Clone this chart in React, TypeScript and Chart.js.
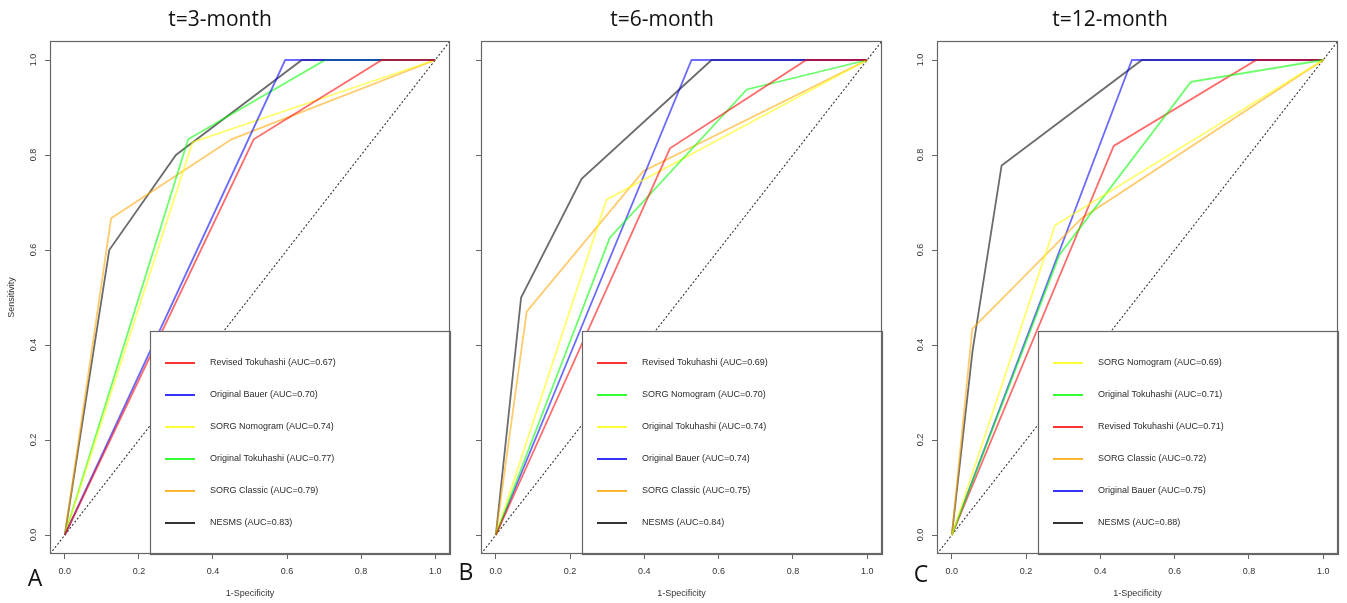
import React, { useEffect, useRef } from "react";
import { Chart, registerables } from "chart.js";

Chart.register(...registerables);

// Shared axis range (R-style 4% extension around [0, 1]) and tick positions
const AXIS_MIN = -0.04;
const AXIS_MAX = 1.04;
const tickValues = [0, 0.2, 0.4, 0.6, 0.8, 1.0];

// RGB triplets for the curve colours
const RED = "255,0,0";
const BLUE = "0,0,255";
const YELLOW = "255,255,0";
const GREEN = "0,255,0";
const ORANGE = "255,165,0";
const BLACK = "0,0,0";

// t = 3 months
const labels3 = [
  "Revised Tokuhashi (AUC=0.67)",
  "Original Bauer (AUC=0.70)",
  "SORG Nomogram (AUC=0.74)",
  "Original Tokuhashi (AUC=0.77)",
  "SORG Classic (AUC=0.79)",
  "NESMS (AUC=0.83)",
];
const colors3 = [RED, BLUE, YELLOW, GREEN, ORANGE, BLACK];
const fpr3 = [
  [0, 0.51, 0.856, 1],
  [0, 0.595, 1],
  [0, 0.345, 1],
  [0, 0.333, 0.703, 1],
  [0, 0.125, 0.45, 1],
  [0, 0.12, 0.3, 0.64, 1],
];
const tpr3 = [
  [0, 0.833, 1, 1],
  [0, 1, 1],
  [0, 0.827, 1],
  [0, 0.833, 1, 1],
  [0, 0.667, 0.833, 1],
  [0, 0.6, 0.8, 1, 1],
];

// t = 6 months
const labels6 = [
  "Revised Tokuhashi (AUC=0.69)",
  "SORG Nomogram (AUC=0.70)",
  "Original Tokuhashi (AUC=0.74)",
  "Original Bauer (AUC=0.74)",
  "SORG Classic (AUC=0.75)",
  "NESMS (AUC=0.84)",
];
const colors6 = [RED, GREEN, YELLOW, BLUE, ORANGE, BLACK];
const fpr6 = [
  [0, 0.469, 0.836, 1],
  [0, 0.307, 0.676, 1],
  [0, 0.298, 1],
  [0, 0.527, 1],
  [0, 0.083, 0.397, 1],
  [0, 0.068, 0.231, 0.581, 1],
];
const tpr6 = [
  [0, 0.814, 1, 1],
  [0, 0.626, 0.938, 1],
  [0, 0.706, 1],
  [0, 1, 1],
  [0, 0.47, 0.766, 1],
  [0, 0.5, 0.75, 1, 1],
];

// t = 12 months
const labels12 = [
  "SORG Nomogram (AUC=0.69)",
  "Original Tokuhashi (AUC=0.71)",
  "Revised Tokuhashi (AUC=0.71)",
  "SORG Classic (AUC=0.72)",
  "Original Bauer (AUC=0.75)",
  "NESMS (AUC=0.88)",
];
const colors12 = [YELLOW, GREEN, RED, ORANGE, BLUE, BLACK];
const fpr12 = [
  [0, 0.278, 1],
  [0, 0.29, 0.644, 1],
  [0, 0.436, 0.82, 1],
  [0, 0.055, 0.35, 1],
  [0, 0.485, 1],
  [0, 0.056, 0.134, 0.512, 1],
];
const tpr12 = [
  [0, 0.652, 1],
  [0, 0.59, 0.954, 1],
  [0, 0.819, 1, 1],
  [0, 0.434, 0.667, 1],
  [0, 1, 1],
  [0, 0.389, 0.778, 1, 1],
];

const FONT = "'Liberation Sans', Arial, Helvetica, sans-serif";
const TITLE_FONT = "'Open Sans', 'Noto Sans', sans-serif";
const CANVAS_H = 603;

type PanelSpec = {
  title: string;
  letter: string;
  labels: string[];
  colors: string[];
  fpr: number[][];
  tpr: number[][];
  showYLabels: boolean;
  showYTitle: boolean;
  canvasLeft: number;
  canvasWidth: number;
  yAxisWidth: number;
  padRight: number;
  titleX: number;
  letterX: number;
  letterY: number;
};

const panels: PanelSpec[] = [
  {
    title: "t=3-month", letter: "A", labels: labels3, colors: colors3, fpr: fpr3, tpr: tpr3,
    showYLabels: true, showYTitle: true,
    canvasLeft: 0, canvasWidth: 460, yAxisWidth: 50, padRight: 10,
    titleX: 220, letterX: 35, letterY: 566,
  },
  {
    title: "t=6-month", letter: "B", labels: labels6, colors: colors6, fpr: fpr6, tpr: tpr6,
    showYLabels: false, showYTitle: false,
    canvasLeft: 460, canvasWidth: 432, yAxisWidth: 21, padRight: 10,
    titleX: 662, letterX: 466, letterY: 560,
  },
  {
    title: "t=12-month", letter: "C", labels: labels12, colors: colors12, fpr: fpr12, tpr: tpr12,
    showYLabels: true, showYTitle: false,
    canvasLeft: 892, canvasWidth: 455, yAxisWidth: 45, padRight: 9,
    titleX: 1110, letterX: 921, letterY: 562,
  },
];

// Legend box in the bottom-right corner of the plot region, plus the frame around it
const rocLegendPlugin = {
  id: "rocLegend",
  afterDatasetsDraw(chart: any) {
    const { ctx, chartArea } = chart;
    const w = 300;
    const h = 223;
    const left = chartArea.right - w;
    const top = chartArea.bottom - h;
    ctx.save();
    ctx.fillStyle = "#ffffff";
    ctx.fillRect(left, top, w, h);
    ctx.strokeStyle = "#666";
    ctx.lineWidth = 1.2;
    ctx.strokeRect(Math.round(left) + 0.5, Math.round(top) + 0.5, w, h);
    ctx.font = `9px ${FONT}`;
    ctx.textBaseline = "middle";
    ctx.textAlign = "left";
    let row = 0;
    chart.data.datasets.forEach((ds: any) => {
      if (ds.isReference) return;
      const y = top + 32 + row * 32;
      ctx.strokeStyle = ds.legendColor;
      ctx.lineWidth = 1.6;
      ctx.beginPath();
      ctx.moveTo(left + 15, y);
      ctx.lineTo(left + 45, y);
      ctx.stroke();
      ctx.fillStyle = "#2a2a2a";
      ctx.fillText(ds.label, left + 60, y);
      row += 1;
    });
    ctx.restore();
  },
  afterDraw(chart: any) {
    const { ctx, chartArea } = chart;
    ctx.save();
    ctx.strokeStyle = "#666";
    ctx.lineWidth = 1.2;
    ctx.strokeRect(
      Math.round(chartArea.left) + 0.5,
      Math.round(chartArea.top) + 0.5,
      Math.round(chartArea.right - chartArea.left) - 1,
      Math.round(chartArea.bottom - chartArea.top) - 1
    );
    ctx.restore();
  },
};

function buildTicks(scale: any) {
  scale.ticks = tickValues.map((v) => ({ value: v }));
}

function RocPanel({ spec }: { spec: PanelSpec }) {
  const ref = useRef<HTMLCanvasElement | null>(null);

  useEffect(() => {
    if (!ref.current) return;
    const datasets: any[] = spec.labels.map((label, i) => ({
      label,
      data: spec.fpr[i].map((x, k) => ({ x, y: spec.tpr[i][k] })),
      borderColor: `rgba(${spec.colors[i]},0.58)`,
      legendColor: `rgb(${spec.colors[i]})`,
      borderWidth: 1.8,
      pointRadius: 0,
      tension: 0,
      fill: false,
    }));
    // chance diagonal y = x across the whole axis range
    datasets.push({
      label: "chance",
      isReference: true,
      data: [
        { x: AXIS_MIN, y: AXIS_MIN },
        { x: AXIS_MAX, y: AXIS_MAX },
      ],
      borderColor: "#333",
      borderWidth: 1.1,
      borderDash: [2, 2],
      pointRadius: 0,
      fill: false,
    });

    const tickFont = { family: FONT, size: 9 };
    const chart = new Chart(ref.current, {
      type: "line",
      data: { datasets },
      options: {
        animation: false,
        responsive: false,
        devicePixelRatio: 1,
        layout: { padding: { top: 41, right: spec.padRight, bottom: 0, left: 0 } },
        plugins: {
          legend: { display: false },
          tooltip: { enabled: false },
          title: { display: false },
        },
        scales: {
          x: {
            type: "linear",
            min: AXIS_MIN,
            max: AXIS_MAX,
            afterBuildTicks: buildTicks,
            afterFit: (s: any) => {
              s.height = 49;
            },
            ticks: {
              autoSkip: false,
              maxRotation: 0,
              padding: 7,
              color: "#333",
              font: tickFont,
              callback: (v: any) => Number(v).toFixed(1),
            },
            grid: { drawOnChartArea: false, drawTicks: true, tickLength: 5, color: "#666" },
            border: { display: false },
            title: {
              display: true,
              text: "1-Specificity",
              color: "#333",
              font: tickFont,
              padding: { top: 0, bottom: 4 },
            },
          },
          y: {
            type: "linear",
            min: AXIS_MIN,
            max: AXIS_MAX,
            afterBuildTicks: buildTicks,
            afterFit: (s: any) => {
              s.width = spec.yAxisWidth;
            },
            ticks: {
              display: spec.showYLabels,
              autoSkip: false,
              minRotation: 90,
              maxRotation: 90,
              crossAlign: "center",
              padding: 5,
              color: "#333",
              font: tickFont,
              callback: (v: any) => Number(v).toFixed(1),
            },
            grid: { drawOnChartArea: false, drawTicks: true, tickLength: 5, color: "#666" },
            border: { display: false },
            title: {
              display: spec.showYTitle,
              text: "Sensitivity",
              color: "#333",
              font: tickFont,
              padding: { top: 6, bottom: 0 },
            },
          },
        },
      } as any,
      plugins: [rocLegendPlugin],
    });
    return () => chart.destroy();
  }, [spec]);

  return (
    <>
      <canvas
        ref={ref}
        width={spec.canvasWidth}
        height={CANVAS_H}
        style={{
          position: "absolute",
          left: spec.canvasLeft,
          top: 0,
          width: spec.canvasWidth,
          height: CANVAS_H,
        }}
      />
      <div
        style={{
          position: "absolute",
          left: spec.titleX,
          top: 8,
          transform: "translateX(-50%)",
          fontFamily: TITLE_FONT,
          fontSize: 21,
          lineHeight: "21px",
          color: "#111",
          whiteSpace: "nowrap",
        }}
      >
        {spec.title}
      </div>
      <div
        style={{
          position: "absolute",
          left: spec.letterX,
          top: spec.letterY,
          transform: "translateX(-50%)",
          fontFamily: TITLE_FONT,
          fontSize: 23,
          lineHeight: "23px",
          color: "#111",
        }}
      >
        {spec.letter}
      </div>
    </>
  );
}

export default function App() {
  return (
    <div
      style={{
        position: "fixed",
        left: 0,
        top: 0,
        width: 1347,
        height: CANVAS_H,
        background: "#ffffff",
        overflow: "hidden",
      }}
    >
      {panels.map((p) => (
        <RocPanel key={p.letter} spec={p} />
      ))}
    </div>
  );
}
